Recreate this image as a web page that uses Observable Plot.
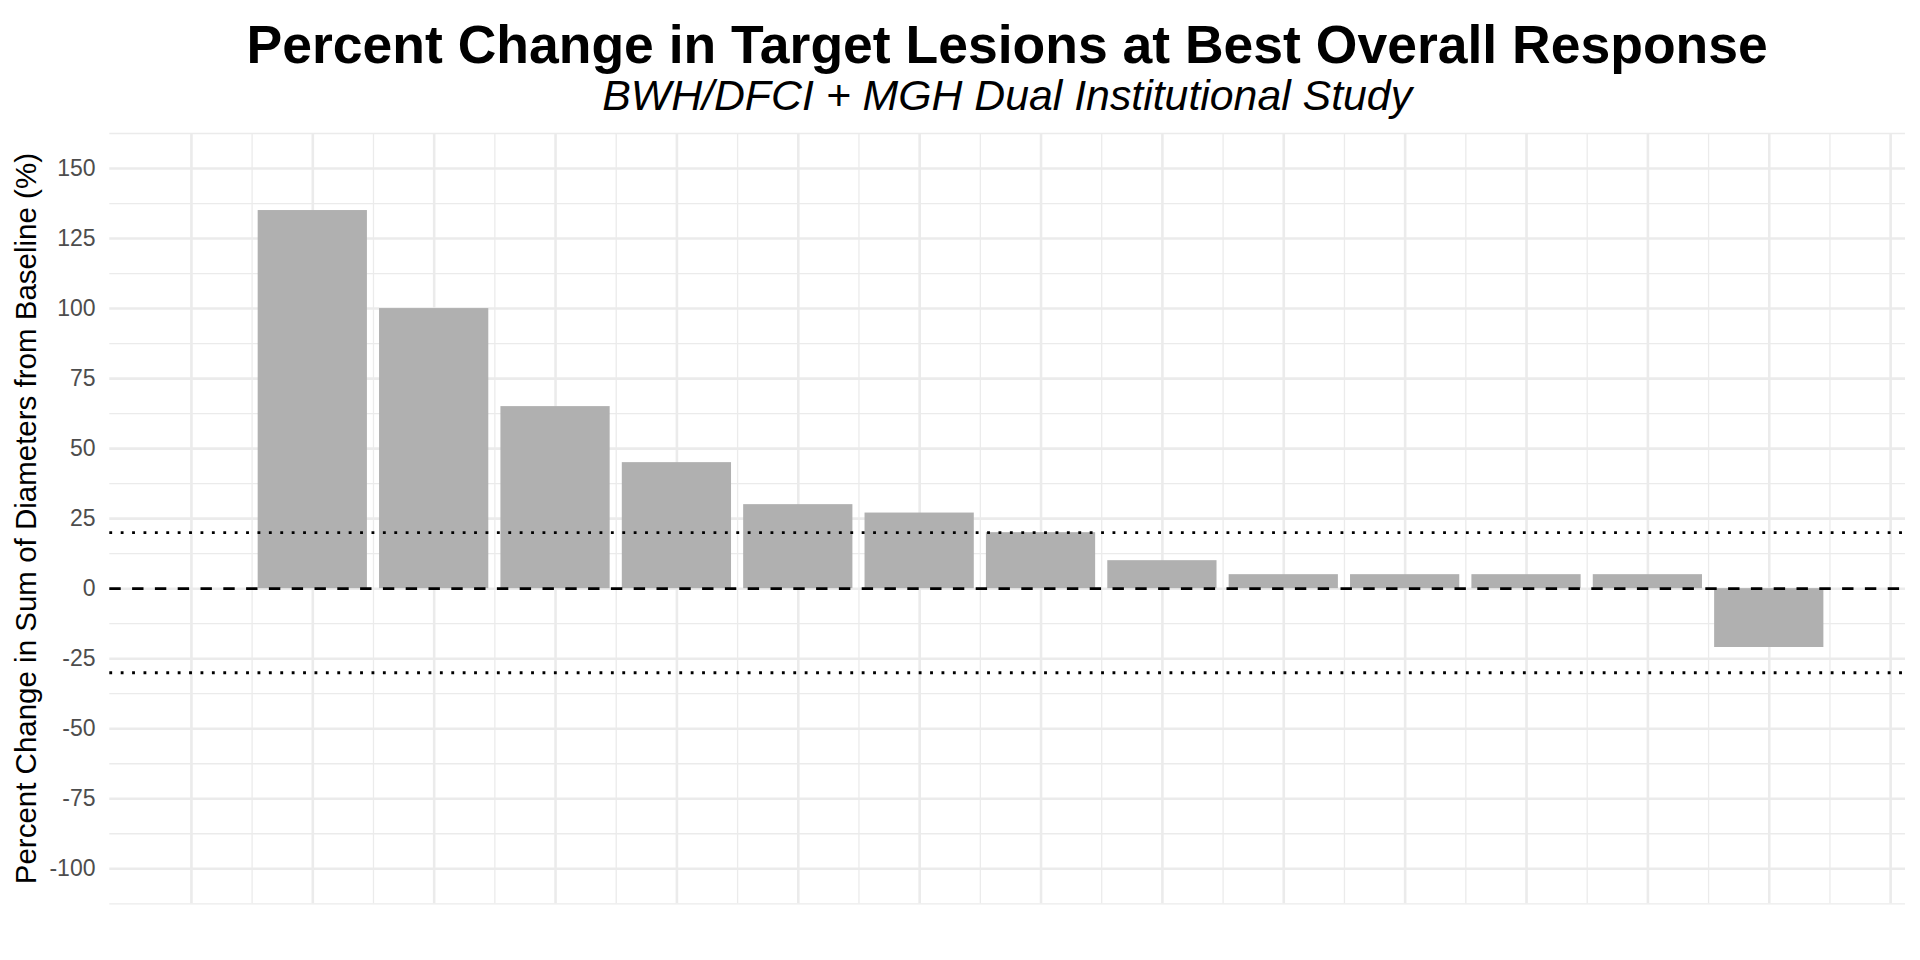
<!DOCTYPE html>
<html>
<head>
<meta charset="utf-8">
<script src="https://cdn.jsdelivr.net/npm/d3@7"></script>
<script src="https://cdn.jsdelivr.net/npm/@observablehq/plot@0.6"></script>
<style>
  html, body { margin: 0; padding: 0; background: #fff; }
  #wrap { position: relative; width: 1920px; height: 960px; overflow: hidden; font-family: "Liberation Sans", Arial, sans-serif; }
  .ttl { position: absolute; left: 109.3px; width: 1795.7px; text-align: center; line-height: 1; white-space: nowrap; color: #000; }
  #title { top: 18px; font-size: 53.5px; font-weight: bold; }
  #subtitle { top: 74px; font-size: 42.8px; font-style: italic; }
  #chart { position: absolute; left: 0; top: 120px; }
</style>
</head>
<body>
<div id="wrap">
  <div id="title" class="ttl">Percent Change in Target Lesions at Best Overall Response</div>
  <div id="subtitle" class="ttl">BWH/DFCI + MGH Dual Institutional Study</div>
  <div id="chart"></div>
</div>
<script>
// ---- data ----
const patients = [1, 2, 3, 4, 5, 6, 7, 8, 9, 10, 11, 12, 13];
const pctChange = [135, 100, 65, 45, 30, 27, 20, 10, 5, 5, 5, 5, -21];
const yTicks = [-100, -75, -50, -25, 0, 25, 50, 75, 100, 125, 150];
const yMinor = [-112.5, -87.5, -62.5, -37.5, -12.5, 12.5, 37.5, 62.5, 87.5, 112.5, 137.5, 162.5];
const xMajor = [0, 1, 2, 3, 4, 5, 6, 7, 8, 9, 10, 11, 12, 13, 14];
const xMinor = [0.5, 1.5, 2.5, 3.5, 4.5, 5.5, 6.5, 7.5, 8.5, 9.5, 10.5, 11.5, 12.5, 13.5];
const zeroLine = [0];
const thresholdLines = [20, -30];
const yTitle = "Percent Change in Sum of Diameters from Baseline (%)";

const rows = patients.map((p, i) => ({patient: p, value: pctChange[i]}));
const barHalf = 0.45;
const grid = "#ebebeb";
const lw = 2.85;

const chart = Plot.plot({
  width: 1920,
  height: 840,
  marginTop: 13,
  marginBottom: 56.7,
  marginLeft: 109.3,
  marginRight: 15,
  style: {fontFamily: "'Liberation Sans', Arial, sans-serif", background: "white"},
  x: {type: "linear", domain: [-0.6725, 14.1225], axis: null},
  y: {domain: [-112.5, 162.5], axis: null},
  marks: [
    Plot.ruleY(yMinor, {stroke: grid, strokeWidth: 1.3}),
    Plot.ruleX(xMinor, {stroke: grid, strokeWidth: 1.3}),
    Plot.ruleY(yTicks, {stroke: grid, strokeWidth: 2.6}),
    Plot.ruleX(xMajor, {stroke: grid, strokeWidth: 2.6}),
    Plot.rectY(rows, {
      x1: d => d.patient - barHalf,
      x2: d => d.patient + barHalf,
      y1: 0,
      y2: "value",
      fill: "#b0b0b0"
    }),
    Plot.ruleY(thresholdLines, {stroke: "black", strokeWidth: lw, strokeDasharray: `${lw},${3 * lw}`}),
    Plot.ruleY(zeroLine, {stroke: "black", strokeWidth: lw, strokeDasharray: `${4 * lw},${4 * lw}`}),
    Plot.axisY(yTicks, {
      tickSize: 0,
      tickPadding: 14.3,
      fontSize: 23,
      fill: "#4d4d4d",
      tickFormat: d => String(d),
      label: null
    }),
    Plot.text([yTitle], {
      frameAnchor: "left",
      rotate: -90,
      dx: -74.3,
      lineAnchor: "bottom",
      textAnchor: "middle",
      fontSize: 29.5,
      fill: "black"
    })
  ]
});
document.getElementById("chart").appendChild(chart);
</script>
</body>
</html>
